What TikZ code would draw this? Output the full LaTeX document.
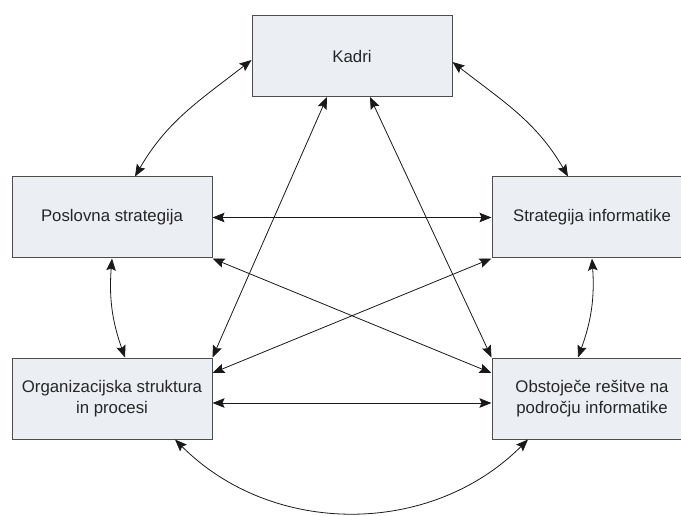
\documentclass[tikz,border=0pt]{standalone}
\usepackage{fontspec}
\setmainfont{Liberation Sans}
\usetikzlibrary{arrows.meta}
\definecolor{boxfill}{HTML}{EBEEF3}
\definecolor{boxline}{HTML}{4D4D4D}

\begin{document}
\begin{tikzpicture}[x=1pt,y=1pt]

		\tikzset{box/.style={draw=boxline,line width=1pt,fill=boxfill,minimum width=200pt,minimum height=81pt,inner sep=0pt,align=center,text=black!85,font=\fontsize{16.8}{20.5}\selectfont},
		link/.style={draw=black!90,line width=0.8pt,{Stealth[length=12pt,width=9.5pt,inset=2pt]}-{Stealth[length=12pt,width=9.5pt,inset=2pt]}}}
	    \useasboundingbox (0,0) rectangle (681,-516);

	    \node[box] (kadri) at (352,-56) {Kadri};
	    \node[box] (poslovna) at (112,-217.5) {Poslovna strategija};
	    \node[box] (strategija) at (592,-217.5) {Strategija informatike};
	    \node[box] (org) at (112,-398.5) {Organizacijska struktura\\in procesi};
	    \node[box] (obstojece) at (592,-398.5) {Obstoječe rešitve na\\področju informatike};

	    % loki okoli
	    \draw[link] ([xshift=23pt]poslovna.north) to[out=60,in=218] ([yshift=-4pt]kadri.west);
	    \draw[link] ([xshift=-24pt]strategija.north) to[out=120,in=-38] ([yshift=-6pt]kadri.east);
	    \draw[link] (poslovna.south) to[bend right=12] ([xshift=13pt]org.north);
	    \draw[link] (strategija.south) to[bend left=12] ([xshift=-14pt]obstojece.north);
	    \draw[link] ([xshift=63pt]org.south) to[out=-45,in=-135] ([xshift=-64pt]obstojece.south);

	    % ravne povezave
	    \draw[link] (poslovna.east) -- (strategija.west);
	    \draw[link] ([yshift=-4.5pt]org.east) -- ([yshift=-4.5pt]obstojece.west);
	    \draw[link] ([xshift=-25pt]kadri.south) -- (org.north east);
	    \draw[link] ([xshift=18pt]kadri.south) -- (obstojece.north west);
	    \draw[link] (poslovna.south east) -- ([yshift=25.5pt]obstojece.west);
	    \draw[link] (strategija.south west) -- ([yshift=25.5pt]org.east);

	\end{tikzpicture}
\end{document}
